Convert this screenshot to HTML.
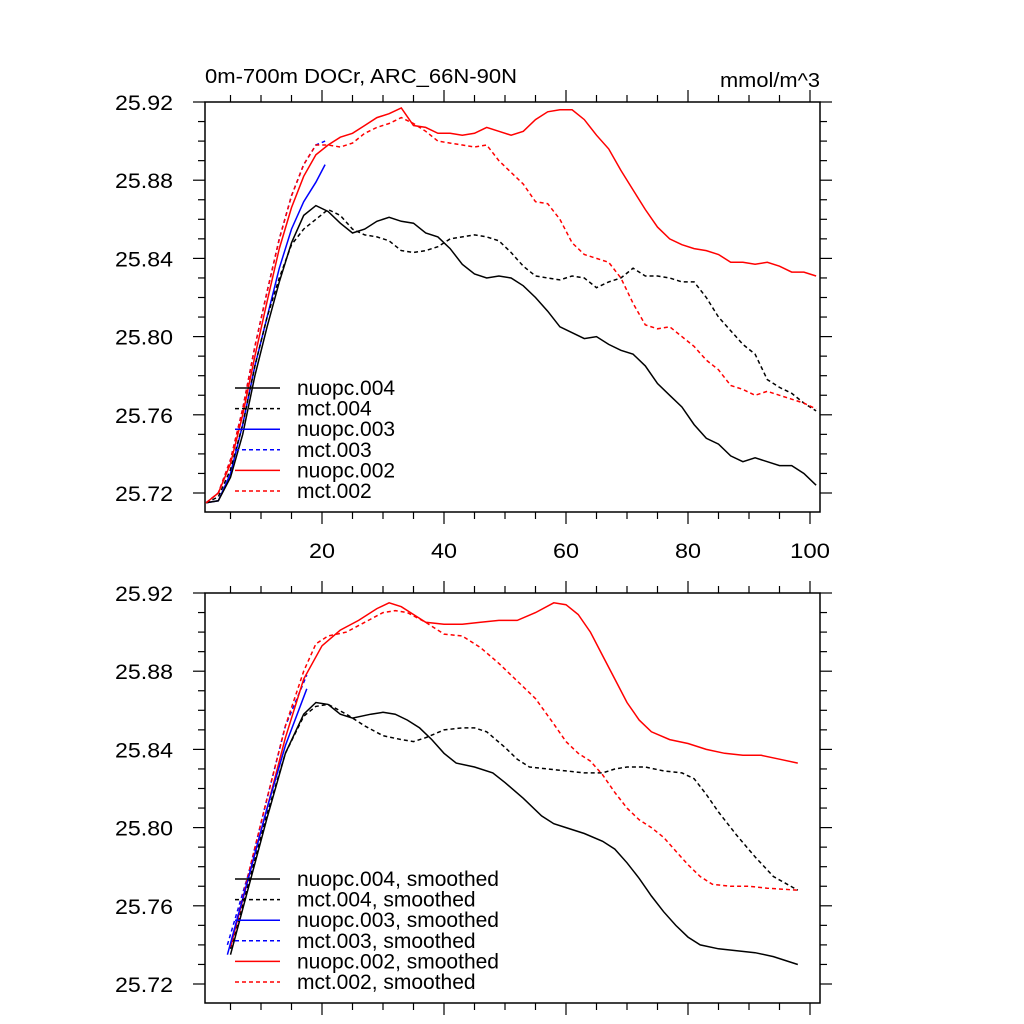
<!DOCTYPE html>
<html><head><meta charset="utf-8"><style>
body{margin:0;background:#fff;}
svg{display:block;font-family:"Liberation Sans",sans-serif;}
</style></head><body>
<svg id="chart" width="1024" height="1024" viewBox="0 0 1024 1024" xmlns="http://www.w3.org/2000/svg">
<text x="205" y="83" font-size="20" textLength="312" lengthAdjust="spacingAndGlyphs">0m-700m DOCr, ARC_66N-90N</text>
<text x="720" y="87" font-size="20" textLength="100" lengthAdjust="spacingAndGlyphs">mmol/m^3</text>
</svg>
<script>
const yTicks=[25.72,25.76,25.80,25.84,25.88,25.92];
const xTicks=[20,40,60,80,100];
const legendRaw=["nuopc.004","mct.004","nuopc.003","mct.003","nuopc.002","mct.002"];
const legendSmooth=["nuopc.004, smoothed","mct.004, smoothed","nuopc.003, smoothed","mct.003, smoothed","nuopc.002, smoothed","mct.002, smoothed"];

// raw panel
const rawX=[1,3,5,7,9,11,13,15,17,19,21,23,25,27,29,31,33,35,37,39,41,43,45,47,49,51,53,55,57,59,61,63,65,67,69,71,73,75,77,79,81,83,85,87,89,91,93,95,97,99,101];
const rawNuopc004=[25.715,25.716,25.728,25.75,25.78,25.805,25.828,25.848,25.862,25.867,25.864,25.858,25.853,25.855,25.859,25.861,25.859,25.858,25.853,25.851,25.845,25.837,25.832,25.830,25.831,25.830,25.826,25.820,25.813,25.805,25.802,25.799,25.800,25.796,25.793,25.791,25.785,25.776,25.770,25.764,25.755,25.748,25.745,25.739,25.736,25.738,25.736,25.734,25.734,25.730,25.724];
const rawMct004=[25.715,25.718,25.732,25.755,25.785,25.81,25.83,25.847,25.855,25.86,25.865,25.862,25.855,25.852,25.851,25.849,25.844,25.843,25.844,25.846,25.850,25.851,25.852,25.851,25.849,25.843,25.836,25.831,25.830,25.829,25.831,25.830,25.825,25.828,25.830,25.835,25.831,25.831,25.830,25.828,25.828,25.82,25.81,25.803,25.796,25.791,25.778,25.774,25.771,25.766,25.762];
const rawNuopc002=[25.715,25.72,25.735,25.76,25.79,25.818,25.845,25.866,25.882,25.893,25.898,25.902,25.904,25.908,25.912,25.914,25.917,25.908,25.907,25.904,25.904,25.903,25.904,25.907,25.905,25.903,25.905,25.911,25.915,25.916,25.916,25.911,25.903,25.896,25.885,25.875,25.865,25.856,25.850,25.847,25.845,25.844,25.842,25.838,25.838,25.837,25.838,25.836,25.833,25.833,25.831];
const rawMct002=[25.715,25.72,25.737,25.763,25.795,25.823,25.85,25.872,25.888,25.898,25.898,25.897,25.899,25.904,25.907,25.909,25.912,25.909,25.905,25.900,25.899,25.898,25.897,25.898,25.890,25.884,25.878,25.869,25.868,25.86,25.848,25.842,25.840,25.838,25.830,25.817,25.806,25.804,25.805,25.800,25.795,25.788,25.783,25.775,25.773,25.770,25.772,25.770,25.768,25.766,25.763];
const rawX003=[1,3,5,7,9,11,13,15,17,19,20.5];
const rawNuopc003=[25.715,25.716,25.73,25.755,25.785,25.81,25.835,25.855,25.869,25.879,25.888];
const rawMct003=[25.715,25.72,25.737,25.763,25.795,25.823,25.85,25.872,25.888,25.898,25.900];

// smoothed panel
const smX004=[5,8,11,14,17,19,21,23,25,28,30,32,34,36,38,40,42,45,48,50,53,56,58,60,63,66,68,70,72,74,76,78,80,82,85,88,91,94,98];
const smNuopc004=[25.735,25.77,25.805,25.838,25.858,25.864,25.863,25.858,25.856,25.858,25.859,25.858,25.855,25.851,25.845,25.838,25.833,25.831,25.828,25.823,25.815,25.806,25.802,25.800,25.797,25.793,25.789,25.782,25.774,25.765,25.757,25.750,25.744,25.740,25.738,25.737,25.736,25.734,25.730];
const smXm004=[5,8,11,14,17,19,21,24,27,30,33,35,37,40,43,45,47,50,52,54,57,60,63,66,68,70,73,76,79,81,83,85,88,91,94,98];
const smMct004=[25.738,25.772,25.807,25.838,25.857,25.862,25.863,25.858,25.852,25.847,25.845,25.844,25.846,25.850,25.851,25.851,25.849,25.841,25.835,25.831,25.830,25.829,25.828,25.828,25.830,25.831,25.831,25.829,25.828,25.825,25.817,25.808,25.796,25.785,25.775,25.768];
const smX002=[5,8,11,14,17,20,23,26,29,31,33,35,37,40,43,46,49,52,55,58,60,62,64,66,68,70,72,74,77,80,83,86,89,92,95,98];
const smNuopc002=[25.739,25.775,25.81,25.846,25.876,25.893,25.901,25.906,25.912,25.915,25.913,25.909,25.905,25.904,25.904,25.905,25.906,25.906,25.910,25.915,25.914,25.909,25.900,25.888,25.876,25.864,25.855,25.849,25.845,25.843,25.840,25.838,25.837,25.837,25.835,25.833];
const smXm002=[5,8,11,14,17,19,21,24,27,30,32,34,37,40,43,46,49,52,55,58,60,62,64,66,68,70,72,74,76,78,80,82,84,87,90,93,98];
const smMct002=[25.740,25.777,25.815,25.852,25.880,25.894,25.898,25.900,25.905,25.910,25.911,25.910,25.905,25.899,25.898,25.892,25.884,25.875,25.866,25.853,25.844,25.838,25.834,25.827,25.818,25.810,25.804,25.800,25.795,25.788,25.781,25.775,25.771,25.770,25.770,25.769,25.768];
const smX003=[4.5,8,11,14,17.5];
const smNuopc003=[25.735,25.775,25.81,25.842,25.871];
const smMct003=[25.740,25.777,25.815,25.852,25.878];

const NS="http://www.w3.org/2000/svg";
const svg=document.getElementById('chart');
function mk(tag,attrs,parent){const e=document.createElementNS(NS,tag);for(const k in attrs)e.setAttribute(k,attrs[k]);(parent||svg).appendChild(e);return e;}

function panel(top,name,series,legend,legY0,showXLabels){
  const L=205,R=820,B=top+410;
  const y0=top;
  const sx=x=>200+6.1*x;
  const sy=v=>y0+(25.92-v)*1955;
  const g=mk('g',{});
  
  
  const fr=mk('rect',{x:L,y:top,width:R-L,height:B-top,fill:'none',stroke:'#000','stroke-width':1.5},g);
  
  
  for(let t=5;t<=100;t+=5){
    const x=sx(t),len=(t%20===0)?12:7;
    mk('line',{x1:x,y1:top,x2:x,y2:top-len,stroke:'#000','stroke-width':1.2},g);
    mk('line',{x1:x,y1:B,x2:x,y2:B+len,stroke:'#000','stroke-width':1.2},g);
  }
  for(let i=0;i<=20;i++){
    const v=25.72+i*0.01,y=sy(v),len=(i%4===0)?12:7;
    mk('line',{x1:L,y1:y,x2:L-len,y2:y,stroke:'#000','stroke-width':1.2},g);
    mk('line',{x1:R,y1:y,x2:R+len,y2:y,stroke:'#000','stroke-width':1.2},g);
  }
  yTicks.forEach(v=>{
    const t=mk('text',{x:115,y:sy(v)+8,'font-size':21,textLength:58,lengthAdjust:'spacingAndGlyphs'},g);
    t.textContent=v.toFixed(2);
    
    
  });
  if(showXLabels){
    xTicks.forEach(v=>{
      const w=v>=100?40:26;
      const t=mk('text',{x:sx(v)-w/2,y:B+46,'font-size':21,textLength:w,lengthAdjust:'spacingAndGlyphs'},g);
      t.textContent=v;
      
      
    });
  }
  series.forEach(s=>{
    const d=s.x.map((x,i)=>(i?'L':'M')+sx(x).toFixed(1)+','+sy(s.y[i]).toFixed(1)).join('');
    const p=mk('path',{d:d,fill:'none',stroke:s.c,'stroke-width':1.5,'stroke-dasharray':s.dash?'4,3':'none'},g);
    
    
  });
  const colors=['#000','#000','#00f','#00f','#f00','#f00'];
  legend.forEach((lab,i)=>{
    const y=legY0+i*20.6;
    const ln=mk('line',{x1:235,y1:y,x2:280,y2:y,stroke:colors[i],'stroke-width':1.5,'stroke-dasharray':i%2?'4,3':'none'},g);
    
    
    const t=mk('text',{x:297,y:y+7,'font-size':21},g);
    t.textContent=lab;
    
    
  });
}
panel(102,'raw-panel',[
 {n:'mct.003',x:rawX003,y:rawMct003,c:'#00f',dash:true},
 {n:'nuopc.003',x:rawX003,y:rawNuopc003,c:'#00f'},
 {n:'nuopc.004',x:rawX,y:rawNuopc004,c:'#000'},
 {n:'mct.004',x:rawX,y:rawMct004,c:'#000',dash:true},
 {n:'nuopc.002',x:rawX,y:rawNuopc002,c:'#f00'},
 {n:'mct.002',x:rawX,y:rawMct002,c:'#f00',dash:true}
],legendRaw,388,true);
panel(593,'smoothed-panel',[
 {n:'mct.003-smoothed',x:smX003,y:smMct003,c:'#00f',dash:true},
 {n:'nuopc.004-smoothed',x:smX004,y:smNuopc004,c:'#000'},
 {n:'mct.004-smoothed',x:smXm004,y:smMct004,c:'#000',dash:true},
 {n:'nuopc.002-smoothed',x:smX002,y:smNuopc002,c:'#f00'},
 {n:'mct.002-smoothed',x:smXm002,y:smMct002,c:'#f00',dash:true},
 {n:'nuopc.003-smoothed',x:smX003,y:smNuopc003,c:'#00f'}
],legendSmooth,879,false);
</script>
</body></html>
